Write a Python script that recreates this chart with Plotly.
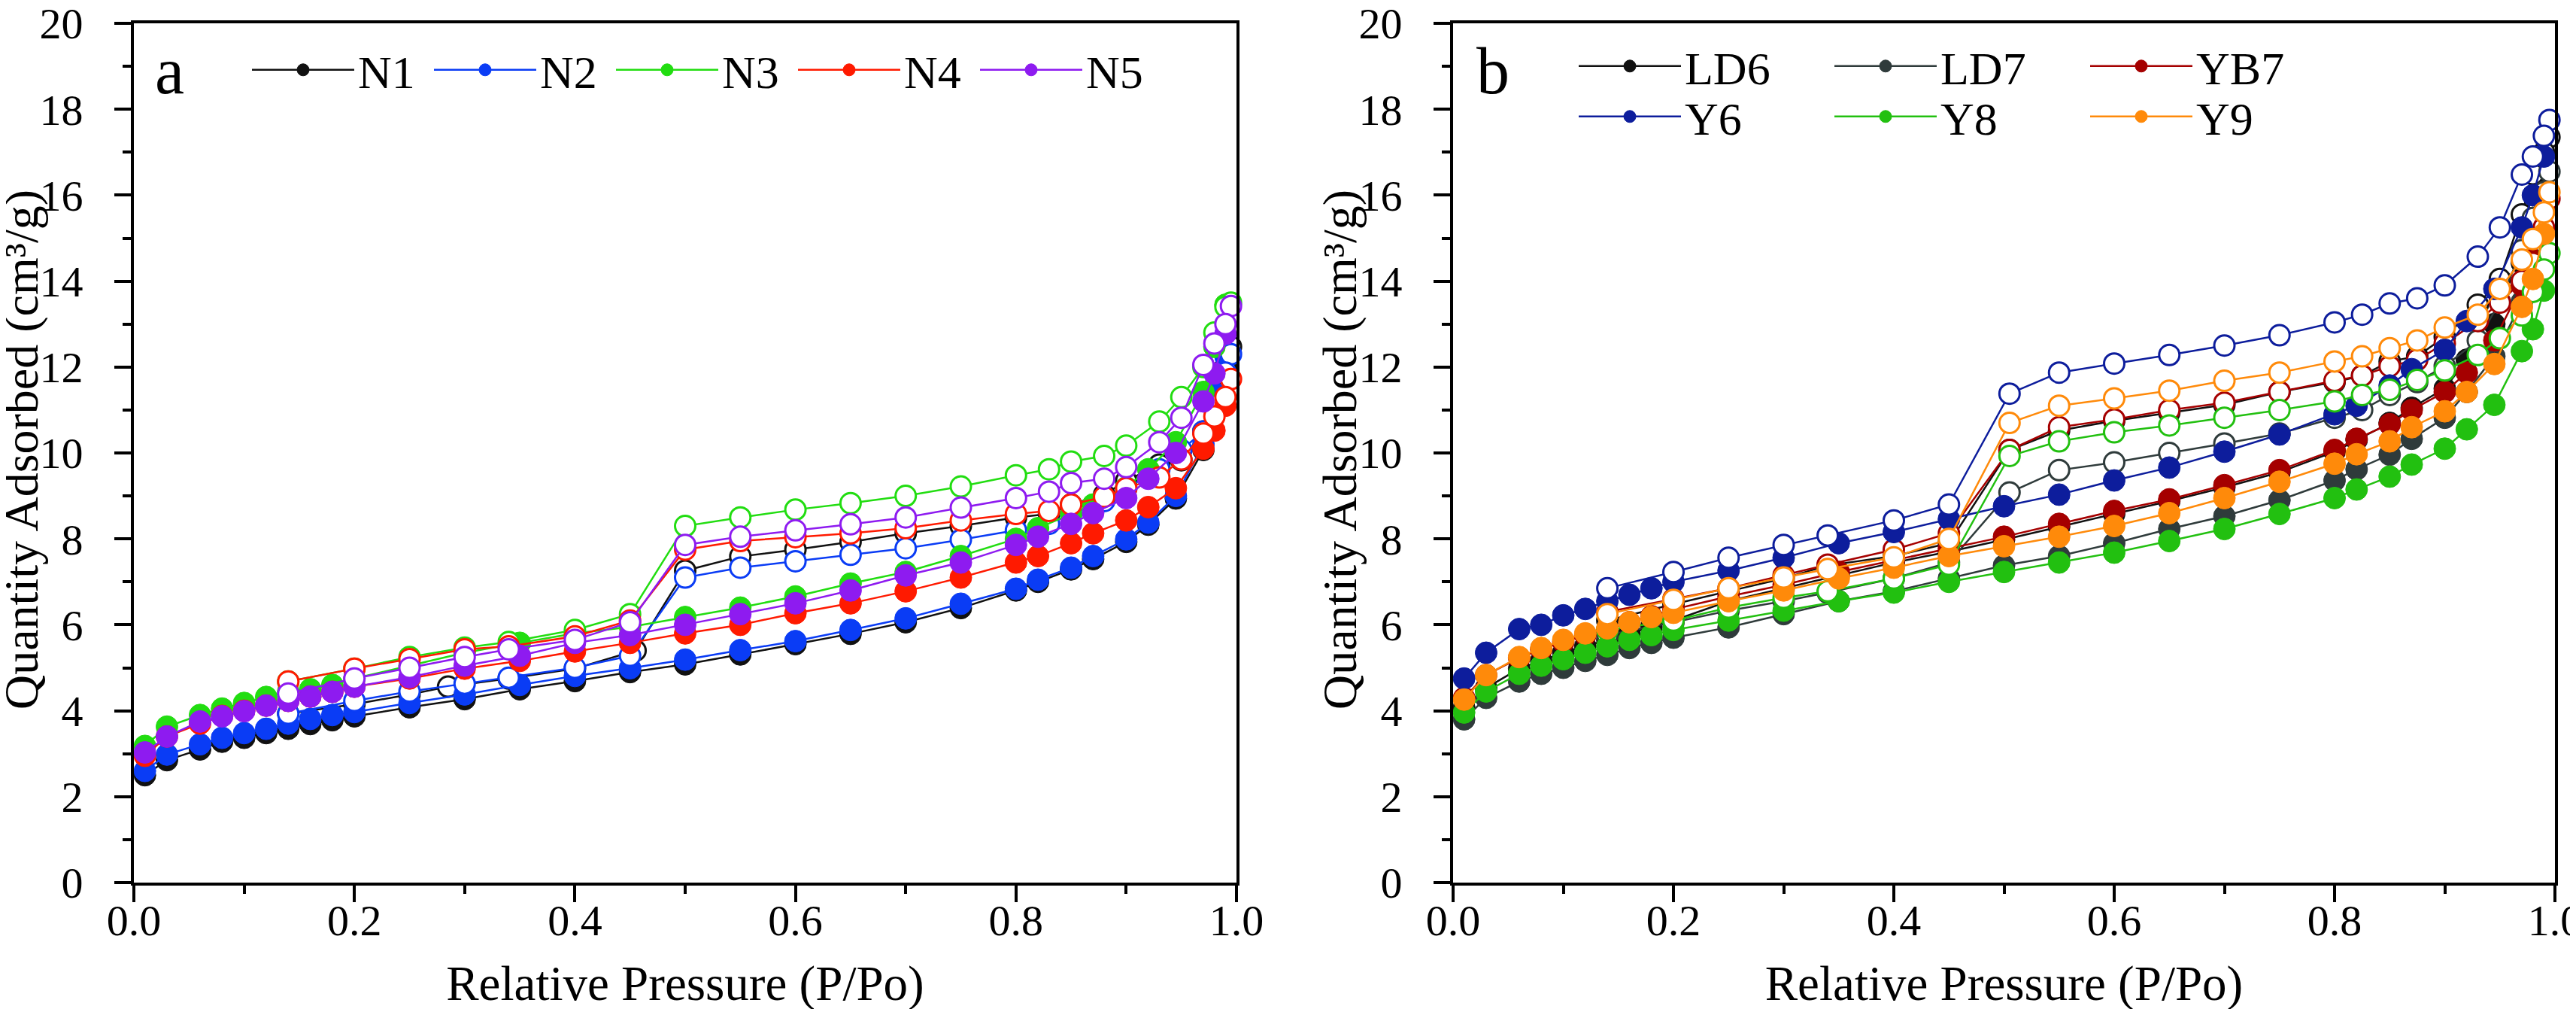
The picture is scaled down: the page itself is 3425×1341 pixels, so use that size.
import plotly.graph_objects as go

# ---------------- data: panel a ----------------
P_ADS_A = [0.01, 0.03, 0.06, 0.08, 0.10, 0.12, 0.14, 0.16, 0.18, 0.20, 0.25, 0.30, 0.35, 0.40, 0.45,
           0.50, 0.55, 0.60, 0.65, 0.70, 0.75, 0.80, 0.82, 0.85, 0.87, 0.90, 0.92, 0.945, 0.97, 0.98, 0.99]
P_DES_A = [0.995, 0.99, 0.98, 0.97, 0.95, 0.93, 0.90, 0.88, 0.85, 0.83, 0.80, 0.75, 0.70, 0.65, 0.60,
           0.55, 0.50, 0.45, 0.40, 0.34, 0.30, 0.25, 0.20, 0.14]
P_DES_N1 = [0.995, 0.99, 0.98, 0.97, 0.95, 0.93, 0.90, 0.88, 0.85, 0.83, 0.80, 0.75, 0.70, 0.65, 0.60,
            0.55, 0.50, 0.455, 0.40, 0.34, 0.285, 0.25, 0.20, 0.14]

N1_ADS = [2.5, 2.85, 3.1, 3.28, 3.37, 3.48, 3.58, 3.69, 3.78, 3.87, 4.08, 4.27, 4.5, 4.69, 4.9, 5.08,
          5.31, 5.55, 5.79, 6.06, 6.39, 6.8, 7.0, 7.29, 7.53, 7.93, 8.33, 8.94, 10.07, 11.1, 12.0]
N2_ADS = [2.6, 2.98, 3.22, 3.37, 3.48, 3.58, 3.7, 3.81, 3.9, 3.97, 4.18, 4.38, 4.6, 4.81, 4.99, 5.19,
          5.41, 5.62, 5.88, 6.15, 6.49, 6.84, 7.05, 7.33, 7.6, 7.99, 8.38, 9.0, 10.2, 11.4, 12.25]
N3_ADS = [3.18, 3.63, 3.9, 4.05, 4.18, 4.32, 4.45, 4.5, 4.6, 4.75, 5.05, 5.35, 5.58, 5.8, 5.95, 6.18,
          6.4, 6.66, 6.96, 7.23, 7.6, 8.0, 8.25, 8.58, 8.8, 9.2, 9.62, 10.25, 11.42, 12.47, 13.45]
N4_ADS = [2.95, 3.4, 3.7, 3.88, 4.0, 4.12, 4.23, 4.33, 4.44, 4.56, 4.75, 4.98, 5.16, 5.38, 5.58, 5.8,
          6.0, 6.27, 6.5, 6.78, 7.1, 7.45, 7.6, 7.9, 8.13, 8.43, 8.74, 9.18, 10.1, 10.52, 11.1]
N5_ADS = [3.03, 3.4, 3.75, 3.87, 3.99, 4.12, 4.23, 4.33, 4.44, 4.56, 4.78, 5.05, 5.28, 5.58, 5.76, 6.0,
          6.25, 6.5, 6.8, 7.15, 7.45, 7.86, 8.05, 8.35, 8.6, 8.95, 9.4, 10.0, 11.2, 11.85, 12.77]

N1_DES = [12.47, 12.0, 11.3, 10.5, 9.83, 9.73, 9.35, 9.03, 8.8, 8.58, 8.5, 8.3, 8.13, 7.93, 7.75,
          7.59, 7.26, 5.4, 4.98, 4.75, 4.56, 4.38, 4.15, 3.93]
N2_DES = [12.3, 11.87, 11.1, 10.5, 10.07, 9.62, 9.18, 8.88, 8.58, 8.35, 8.2, 7.98, 7.78, 7.63, 7.48,
          7.33, 7.1, 5.28, 5.0, 4.77, 4.63, 4.45, 4.23, 3.93]
N3_DES = [13.5, 13.4, 12.8, 12.0, 11.3, 10.73, 10.17, 9.93, 9.8, 9.62, 9.48, 9.22, 9.0, 8.83, 8.68,
          8.5, 8.3, 6.25, 5.88, 5.6, 5.47, 5.25, 4.98, 4.68]
N4_DES = [11.72, 11.3, 10.85, 10.45, 9.85, 9.43, 9.18, 8.98, 8.8, 8.65, 8.58, 8.43, 8.25, 8.13, 8.04,
          7.95, 7.75, 6.1, 5.73, 5.5, 5.43, 5.2, 4.98, 4.68]
N5_DES = [13.42, 13.0, 12.55, 12.05, 10.82, 10.25, 9.67, 9.4, 9.3, 9.1, 8.95, 8.73, 8.5, 8.34, 8.2,
          8.05, 7.86, 6.06, 5.65, 5.43, 5.25, 5.0, 4.75, 4.4]

NAMES_A = ["N1", "N2", "N3", "N4", "N5"]
COLORS_A = ["#111111", "#0a3cf5", "#22dd11", "#ff1a00", "#8e1bf0"]

# ---------------- data: panel b ----------------
P_ADS_B = P_ADS_A
P_DES_B = [0.995, 0.99, 0.98, 0.97, 0.95, 0.93, 0.90, 0.875, 0.85, 0.825, 0.80, 0.75, 0.70, 0.65, 0.60,
           0.55, 0.505, 0.45, 0.40, 0.34, 0.30, 0.25, 0.20, 0.14]

LD6_ADS = [4.08, 4.53, 4.98, 5.16, 5.35, 5.5, 5.65, 5.8, 5.95, 6.1, 6.55, 6.85, 7.15, 7.45, 7.7, 7.98,
           8.28, 8.58, 8.88, 9.2, 9.55, 10.03, 10.3, 10.7, 11.05, 11.5, 12.17, 13.0, 14.42, 15.47, 16.52]
LD7_ADS = [3.8, 4.3, 4.68, 4.86, 5.0, 5.16, 5.3, 5.46, 5.58, 5.7, 5.94, 6.25, 6.55, 6.78, 7.08, 7.38,
           7.6, 7.9, 8.23, 8.53, 8.9, 9.36, 9.62, 9.96, 10.33, 10.82, 11.42, 12.25, 13.52, 14.42, 15.62]
YB7_ADS = [4.3, 4.83, 5.23, 5.43, 5.6, 5.76, 5.9, 6.06, 6.2, 6.36, 6.66, 6.93, 7.23, 7.5, 7.78, 8.05,
           8.35, 8.65, 8.92, 9.25, 9.6, 10.07, 10.33, 10.67, 11.0, 11.42, 11.87, 12.62, 13.9, 14.5, 15.92]
Y6_ADS = [4.75, 5.35, 5.9, 6.0, 6.22, 6.37, 6.55, 6.7, 6.85, 7.0, 7.26, 7.56, 7.9, 8.16, 8.46, 8.76,
          9.03, 9.36, 9.66, 10.03, 10.43, 10.9, 11.1, 11.57, 11.95, 12.4, 13.07, 13.82, 15.25, 16.0, 16.9]
Y8_ADS = [3.96, 4.45, 4.86, 5.05, 5.2, 5.35, 5.5, 5.65, 5.76, 5.88, 6.1, 6.33, 6.55, 6.75, 7.0, 7.23,
          7.45, 7.68, 7.95, 8.23, 8.58, 8.95, 9.15, 9.45, 9.73, 10.1, 10.55, 11.12, 12.37, 12.88, 13.78]
Y9_ADS = [4.26, 4.83, 5.25, 5.46, 5.65, 5.8, 5.92, 6.06, 6.18, 6.28, 6.55, 6.8, 7.08, 7.33, 7.6, 7.83,
          8.05, 8.3, 8.6, 8.95, 9.33, 9.75, 9.97, 10.27, 10.6, 10.97, 11.42, 12.07, 13.4, 14.05, 15.1]

LD6_DES = [17.35, 17.0, 16.49, 15.55, 14.05, 13.45, 12.7, 12.25, 12.13, 11.8, 11.65, 11.42, 11.12,
           10.94, 10.75, 10.52, 10.07, 7.9, 7.6, 7.38, 7.08, 6.78, 6.48, 6.1]
LD7_DES = [16.55, 16.07, 15.47, 14.72, 13.52, 12.62, 12.02, 11.65, 11.35, 11.0, 10.82, 10.45, 10.22,
           10.0, 9.78, 9.6, 9.08, 7.45, 7.08, 6.75, 6.55, 6.33, 6.06, 5.76]
YB7_DES = [15.92, 15.25, 14.42, 14.0, 13.5, 13.07, 12.55, 12.17, 12.02, 11.8, 11.68, 11.42, 11.17,
           11.0, 10.78, 10.6, 10.07, 8.13, 7.75, 7.4, 7.15, 6.85, 6.6, 6.3]
Y6_DES = [17.75, 17.38, 16.9, 16.48, 15.25, 14.57, 13.9, 13.6, 13.48, 13.22, 13.04, 12.74, 12.5,
          12.28, 12.08, 11.87, 11.38, 8.8, 8.43, 8.08, 7.86, 7.56, 7.23, 6.85]
Y8_DES = [14.65, 14.27, 13.75, 13.2, 12.67, 12.28, 11.92, 11.7, 11.47, 11.35, 11.2, 11.0, 10.82,
          10.64, 10.48, 10.27, 9.93, 7.4, 7.08, 6.78, 6.63, 6.4, 6.1, 5.88]
Y9_DES = [16.07, 15.6, 14.98, 14.5, 13.82, 13.22, 12.92, 12.62, 12.44, 12.25, 12.13, 11.87, 11.68,
          11.45, 11.27, 11.1, 10.7, 8.0, 7.57, 7.3, 7.1, 6.85, 6.58, 6.25]

NAMES_B = ["LD6", "LD7", "YB7", "Y6", "Y8", "Y9"]
COLORS_B = ["#111111", "#2f3b3b", "#a50000", "#0d1d9c", "#22c010", "#ff8a0a"]

X_TICKS = [0.0, 0.2, 0.4, 0.6, 0.8, 1.0]
Y_TICKS = [0, 2, 4, 6, 8, 10, 12, 14, 16, 18, 20]
X_TITLE = "Relative Pressure (P/Po)"
Y_TITLE = "Quantity Adsorbed (cm³/g)"

FONT = "Liberation Serif, Times New Roman, serif"

fig = go.Figure()


def add_sample(name, color, px_a, ya, px_d, yd, xa, ya_ax, legend):
    fig.add_trace(go.Scatter(
        x=px_a, y=ya, name=name, mode="lines+markers", xaxis=xa, yaxis=ya_ax,
        line=dict(color=color, width=2.5),
        marker=dict(symbol="circle", size=29, color=color, line=dict(color=color, width=1)),
        cliponaxis=False, legend=legend, showlegend=True))
    fig.add_trace(go.Scatter(
        x=px_d, y=yd, name=name, mode="lines+markers", xaxis=xa, yaxis=ya_ax,
        line=dict(color=color, width=2.5),
        marker=dict(symbol="circle", size=27, color="white", line=dict(color=color, width=3)),
        cliponaxis=False, showlegend=False))


ads_a = [N1_ADS, N2_ADS, N3_ADS, N4_ADS, N5_ADS]
des_a = [N1_DES, N2_DES, N3_DES, N4_DES, N5_DES]
for i, nm in enumerate(NAMES_A):
    pdes = P_DES_N1 if nm == "N1" else P_DES_A
    add_sample(nm, COLORS_A[i], P_ADS_A, ads_a[i], pdes, des_a[i], "x", "y", "legend")

ads_b = [LD6_ADS, LD7_ADS, YB7_ADS, Y6_ADS, Y8_ADS, Y9_ADS]
des_b = [LD6_DES, LD7_DES, YB7_DES, Y6_DES, Y8_DES, Y9_DES]
for i, nm in enumerate(NAMES_B):
    leg = "legend2" if i < 3 else "legend3"
    add_sample(nm, COLORS_B[i], P_ADS_B, ads_b[i], P_DES_B, des_b[i], "x2", "y2", leg)

W, H = 3425, 1341
ML, MR, MT, MB = 170, 36, 23, 176
PW = W - ML - MR
PH = H - MT - MB


def xp(px):
    return (px - ML) / PW


def yp(py):
    return (H - MB - py) / PH


xa_dom = [0, xp(1636)]
xb_dom = [xp(1924), 1]

axis_common = dict(
    showline=True, linecolor="black", linewidth=4, mirror=True,
    ticks="outside", ticklen=22, tickwidth=4, tickcolor="black",
    showgrid=False, zeroline=False, ticklabeloverflow="allow",
    tickfont=dict(family=FONT, size=58, color="black"),
    title_font=dict(family=FONT, size=65, color="black"),
)

xcommon = dict(axis_common, range=[0, 1], tickvals=X_TICKS, tickformat=".1f",
               ticklabelstandoff=-26,
               minor=dict(dtick=0.1, ticklen=11, tickwidth=4, ticks="outside", tickcolor="black", showgrid=False),
               title_text=X_TITLE, title_standoff=30)
ycommon = dict(axis_common, range=[0, 20], tickvals=Y_TICKS,
               ticklabelstandoff=30,
               minor=dict(dtick=1, ticklen=11, tickwidth=4, ticks="outside", tickcolor="black", showgrid=False))

leg_common = dict(orientation="h", bgcolor="rgba(0,0,0,0)", borderwidth=0,
                  font=dict(family=FONT, size=62, color="black"),
                  itemwidth=136, xanchor="left", yanchor="middle",
                  entrywidthmode="pixels", tracegroupgap=0)

title_font = dict(family=FONT, size=64, color="black")

fig.update_layout(
    width=W, height=H,
    margin=dict(l=ML, r=MR, t=MT, b=MB, autoexpand=False),
    paper_bgcolor="white", plot_bgcolor="white",
    font=dict(family=FONT, color="black"),
    xaxis=dict(xcommon, domain=xa_dom, anchor="y"),
    yaxis=dict(ycommon, domain=[0, 1], anchor="x"),
    xaxis2=dict(xcommon, domain=xb_dom, anchor="y2"),
    yaxis2=dict(ycommon, domain=[0, 1], anchor="x2"),
    legend=dict(leg_common, x=xp(322), y=yp(85), entrywidth=91),
    legend2=dict(leg_common, x=xp(2086), y=yp(80), entrywidth=189),
    legend3=dict(leg_common, x=xp(2086), y=yp(147), entrywidth=189),
    annotations=[
        dict(text="a", xref="x domain", yref="y domain", x=0.018, y=yp(137), xanchor="left",
             yanchor="bottom", showarrow=False, font=dict(family=FONT, size=88, color="black")),
        dict(text="b", xref="x2 domain", yref="y2 domain", x=0.02, y=yp(137), xanchor="left",
             yanchor="bottom", showarrow=False, font=dict(family=FONT, size=88, color="black")),
        dict(text=Y_TITLE, xref="paper", yref="paper", x=xp(20), y=yp(590), textangle=-90,
             xanchor="center", yanchor="middle", showarrow=False, font=title_font),
        dict(text=Y_TITLE, xref="paper", yref="paper", x=xp(1773), y=yp(590), textangle=-90,
             xanchor="center", yanchor="middle", showarrow=False, font=title_font),
    ],
)

fig.write_html("out.html")
